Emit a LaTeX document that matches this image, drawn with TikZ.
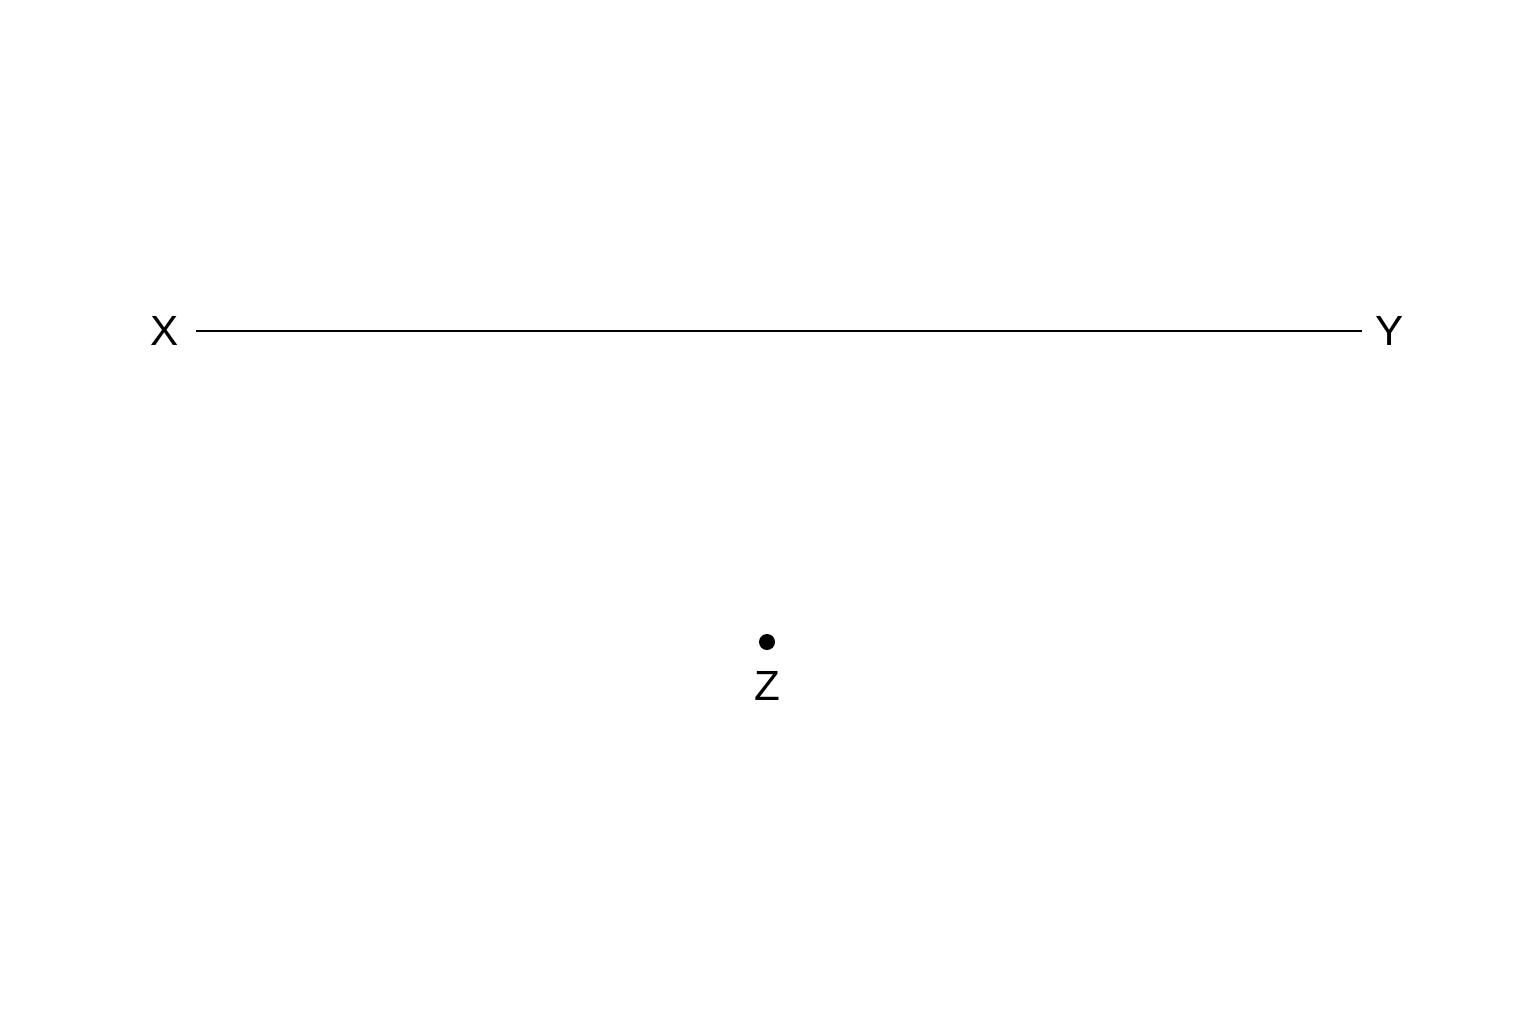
\documentclass[tikz,border=0pt]{standalone}
\usepackage{fontspec}
\setmainfont{Liberation Sans}
\begin{document}
\begin{tikzpicture}[x=0.01cm,y=-0.01cm,
  lbl/.style={inner sep=0pt, font=\fontsize{12}{14}\selectfont},
  seg/.style={line width=0.85pt}]
\useasboundingbox (0,0) rectangle (1536,1024);
\fill[white] (0,0) rectangle (1536,1024);
\coordinate (a) at (196,331);
\coordinate (b) at (1362,331);
\node[lbl] (X) at (165,331) {X};
\node[lbl] (Y) at (1390,331) {Y};
\draw[seg] (a) -- (b);
\fill (767,642) circle[radius=8] coordinate (zp);
\node[lbl] (Z) at (767,686) {Z};
\end{tikzpicture}
\end{document}
